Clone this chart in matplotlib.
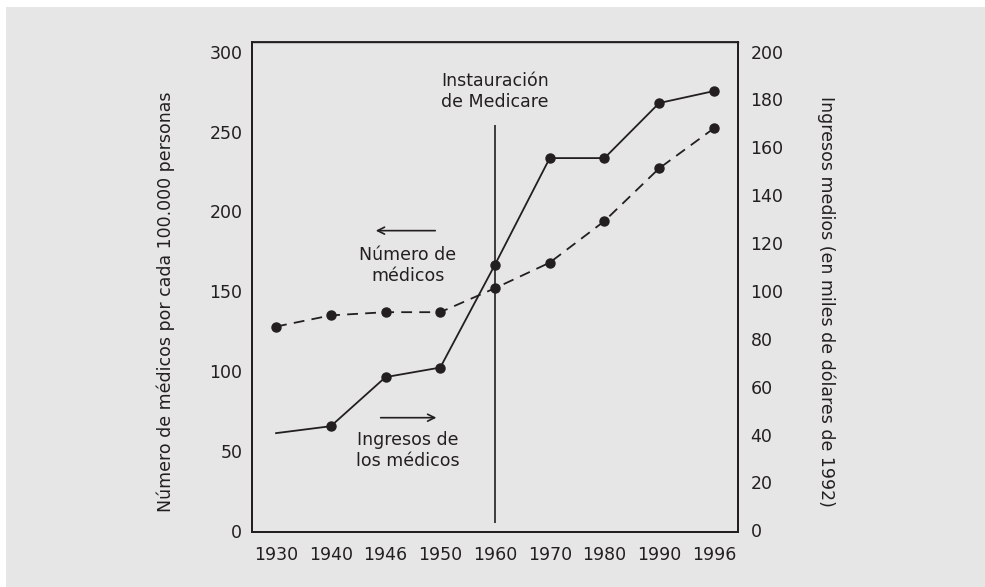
import matplotlib
matplotlib.use("Agg")
import matplotlib.pyplot as plt
from matplotlib.patches import Rectangle
import numpy as np

# ------------------ DATA ------------------
years = ["1930", "1940", "1946", "1950", "1960", "1970", "1980", "1990", "1996"]
doctors = [128, 135, 137, 137, 152, 168, 194, 227, 252]          # per 100,000 people (left axis)
income = [40.6, 43.5, 64, 68, 111, 155.5, 155.5, 178.5, 183.5]    # thousands of 1992 dollars (right axis)
medicare_year = "1960"

plt.rcParams.update({
    "font.family": ["DejaVu Sans"],
    "font.size": 12.5,
    "text.color": "#231f20",
    "axes.labelcolor": "#231f20",
    "xtick.color": "#231f20",
    "ytick.color": "#231f20",
})

ink = "#231f20"
bg = "#e6e6e6"

fig = plt.figure(figsize=(9.85, 5.87), dpi=100, facecolor="white")
fig.patches.append(Rectangle((6 / 985, 0), 1, 1 - 7 / 587, transform=fig.transFigure,
                             facecolor=bg, edgecolor="none", zorder=-10))

ax = fig.add_axes([252 / 985, 1 - 532 / 587, (738 - 252) / 985, (532 - 42) / 587])
ax.set_facecolor(bg)
ax2 = ax.twinx()

x = np.arange(len(years))

ax.plot(x, doctors, color=ink, lw=1.3, ls=(0, (6, 4)), marker="o", ms=6.5)
ax2.plot(x, income, color=ink, lw=1.3, marker="o", ms=6.5, markevery=list(range(1, len(years))))

ax.set_xlim(-0.44, 8.44)
ax.set_ylim(-0.5, 306)
ax2.set_ylim(-0.7, 204)

ax.set_xticks(x)
ax.set_xticklabels(years)
ax.set_yticks(range(0, 301, 50))
ax2.set_yticks(range(0, 201, 20))

for a in (ax, ax2):
    a.tick_params(length=0, labelsize=12.5)
    for s in a.spines.values():
        s.set_color(ink)
        s.set_linewidth(1.3)
ax.tick_params(axis="y", pad=7)
ax.tick_params(axis="x", pad=10)
ax2.tick_params(axis="y", pad=9)
ax.spines["top"].set_linewidth(1.0)

ax.set_ylabel("Número de médicos por cada 100.000 personas", fontsize=12.5)
ax2.set_ylabel("Ingresos medios (en miles de dólares de 1992)", fontsize=12.5, rotation=270)
ax.yaxis.set_label_coords(-0.158, 0.47)
ax2.yaxis.set_label_coords(1.20, 0.47)

# Medicare marker
mx = years.index(medicare_year)
ax.vlines(mx, 5, 254, color=ink, lw=1.2)
ax.text(mx, 275, "Instauración\nde Medicare", ha="center", va="center",
        fontsize=12.5, linespacing=1.2)

# arrows and series labels
ax.annotate("", xy=(1.77, 188), xytext=(2.96, 188),
            arrowprops=dict(arrowstyle="->", color=ink, lw=1.2))
ax.text(2.41, 166, "Número de\nmédicos", ha="center", va="center",
        fontsize=12.5, linespacing=1.2)
ax.annotate("", xy=(2.98, 71), xytext=(1.86, 71),
            arrowprops=dict(arrowstyle="->", color=ink, lw=1.2))
ax.text(2.41, 50.5, "Ingresos de\nlos médicos", ha="center", va="center",
        fontsize=12.5, linespacing=1.2)

fig.savefig("out.png", dpi=100, facecolor=fig.get_facecolor())
